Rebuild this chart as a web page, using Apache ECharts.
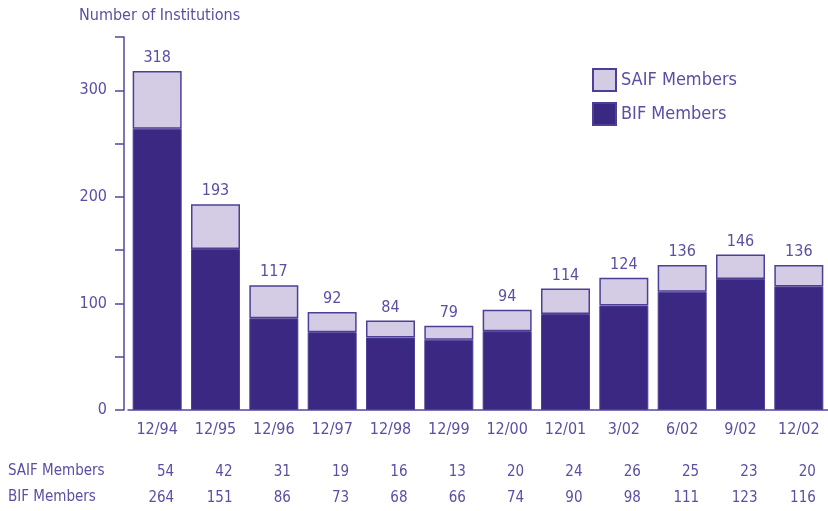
<!DOCTYPE html>
<html>
<head>
<meta charset="utf-8">
<script src="https://cdn.jsdelivr.net/npm/echarts@6/dist/echarts.min.js"></script>
<style>
  html, body { margin: 0; padding: 0; background: #fff; }
  #chart { width: 828px; height: 511px; }
</style>
</head>
<body>
<div id="chart"></div>
<script>
// data
const categories = ["12/94", "12/95", "12/96", "12/97", "12/98", "12/99", "12/00", "12/01", "3/02", "6/02", "9/02", "12/02"];
const saifMembers = [54, 42, 31, 19, 16, 13, 20, 24, 26, 25, 23, 20];
const bifMembers = [264, 151, 86, 73, 68, 66, 74, 90, 98, 111, 123, 116];
const yTicks = [0, 100, 200, 300];

const fontName = "'Liberation Sans Narrow', 'DejaVu Sans Condensed', sans-serif";
const textColor = "#5a4fa3";
const lineColor = "#5546a0";
const darkPurple = "#3b2883";
const lightPurple = "#d4cce5";

const chart = echarts.init(document.getElementById("chart"));

// extra x axis used as one row of the table under the chart
const tableAxis = (values, offset) => ({
  type: "category",
  data: values.map(String),
  position: "bottom",
  gridIndex: 0,
  offset: offset,
  axisLine: { show: false },
  axisTick: { show: false },
  axisLabel: {
    interval: 0,
    margin: 0,
    color: textColor,
    fontFamily: fontName,
    fontSize: 15,
    formatter: (v) => "{v|" + v + "}",
    rich: { v: { width: 34, align: "right", color: textColor, fontFamily: fontName, fontSize: 15 } },
  },
});

const option = {
  backgroundColor: "#fff",
  animation: false,
  title: {
    text: "Number of Institutions",
    left: 74,
    top: 3,
    textStyle: { color: textColor, fontFamily: fontName, fontSize: 16, fontWeight: "normal" },
  },
  legend: {
    orient: "vertical",
    left: 587,
    top: 63,
    icon: "rect",
    itemWidth: 23,
    itemHeight: 22,
    itemGap: 10,
    data: ["SAIF Members", "BIF Members"],
    textStyle: { color: textColor, fontFamily: fontName, fontSize: 18 },
  },
  grid: { left: 128, right: -5, top: 37, bottom: 101 },
  xAxis: [
    {
      type: "category",
      data: categories,
      axisLine: { lineStyle: { color: lineColor, width: 1.5 } },
      axisTick: { show: false },
      axisLabel: { interval: 0, color: textColor, fontFamily: fontName, fontSize: 16, margin: 12 },
    },
    tableAxis(saifMembers, 55),
    tableAxis(bifMembers, 81),
  ],
  yAxis: {
    type: "value",
    min: 0,
    max: 350,
    interval: 50,
    offset: 4,
    splitLine: { show: false },
    axisLine: { show: true, lineStyle: { color: lineColor, width: 1.5 } },
    axisTick: { show: true, length: 9, lineStyle: { color: lineColor, width: 1.5 } },
    axisLabel: {
      margin: 17,
      color: textColor,
      fontFamily: fontName,
      fontSize: 16,
      formatter: (v) => (yTicks.includes(v) ? String(v) : ""),
    },
  },
  graphic: [
    { type: "text", left: 8, top: 464, style: { text: "SAIF Members", fill: textColor, font: "15px " + fontName } },
    { type: "text", left: 8, top: 490, style: { text: "BIF Members", fill: textColor, font: "15px " + fontName } },
  ],
  series: [
    {
      name: "BIF Members",
      type: "bar",
      stack: "total",
      barWidth: 49,
      data: bifMembers,
      itemStyle: { color: darkPurple, borderColor: "#4e3f96", borderWidth: 1 },
    },
    {
      name: "SAIF Members",
      type: "bar",
      stack: "total",
      barWidth: 49,
      data: saifMembers,
      itemStyle: { color: lightPurple, borderColor: "#4e3f96", borderWidth: 1.5 },
      label: {
        show: true,
        position: "top",
        distance: 5,
        color: textColor,
        fontFamily: fontName,
        fontSize: 16,
        formatter: (p) => String(bifMembers[p.dataIndex] + saifMembers[p.dataIndex]),
      },
    },
  ],
};

chart.setOption(option);
</script>
</body>
</html>
